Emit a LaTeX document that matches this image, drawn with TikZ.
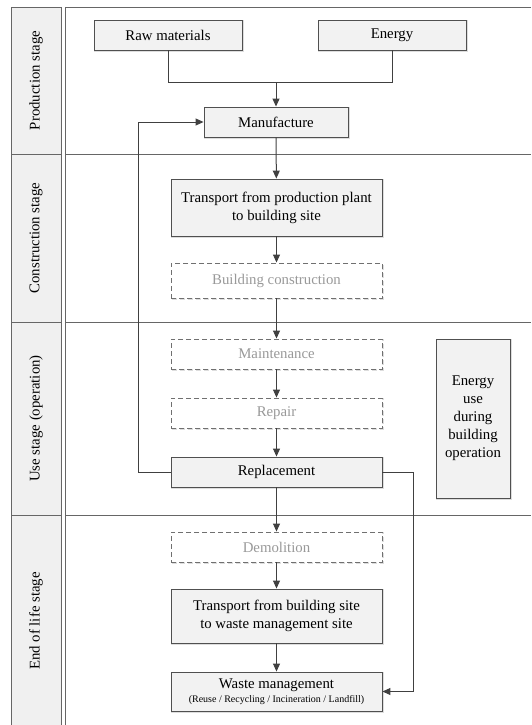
\documentclass[tikz,border=0pt]{standalone}
\usepackage{fontspec}
\setmainfont{Liberation Serif}
\usetikzlibrary{arrows.meta}
\definecolor{boxfill}{HTML}{F2F2F2}
\definecolor{boxline}{HTML}{505050}
\definecolor{arrowc}{HTML}{404040}
\definecolor{dashline}{HTML}{707070}
\definecolor{dashtext}{HTML}{999999}
\definecolor{lanefill}{HTML}{F0F0F0}
\definecolor{laneline}{HTML}{666666}
\definecolor{shadowc}{HTML}{DDDDDD}
\tikzset{
  every node/.style={font=\fontsize{14.8}{18}\selectfont},
  shadowed/.style={preaction={draw=shadowc, line width=1.2pt, transform canvas={xshift=1pt,yshift=-1pt}}},
  solidbox/.style={draw=boxline, fill=boxfill, line width=0.9pt, inner sep=0pt, align=center, shadowed},
  dashbox/.style={draw=dashline, fill=white, dashed, dash pattern=on 5pt off 3pt, line width=0.9pt, inner sep=0pt, align=center, text=dashtext, shadowed},
  flow/.style={draw=arrowc, line width=1pt, -{Triangle[length=8pt,width=7pt]}},
  link/.style={draw=arrowc, line width=1pt},
  lane/.style={draw=laneline, fill=lanefill, line width=0.9pt},
  laneline/.style={draw=laneline, line width=0.9pt},
  lanetext/.style={rotate=90, anchor=center}
}
\begin{document}
\begin{tikzpicture}[x=1pt,y=-1pt]
\useasboundingbox (0,0) rectangle (531,725);
% lane label column
\draw[lane] (11,7) rectangle (61,154);
\draw[lane] (11,154) rectangle (61,322);
\draw[lane] (11,322) rectangle (61,515);
\draw[lane] (11,515) rectangle (61,727);
\node[lanetext] (l1) at (36,80.5) {Production stage};
\node[lanetext] (l2) at (36,238) {Construction stage};
\node[lanetext] (l3) at (36,418.5) {Use stage (operation)};
\node[lanetext] (l4) at (36,621) {End of life stage};
% main panel
\draw[laneline] (531,7) -- (65,7) -- (65,727);
\draw[laneline] (65,154) -- (531,154);
\draw[laneline] (65,322) -- (531,322);
\draw[laneline] (65,515) -- (531,515);
% nodes
\node[solidbox, minimum width=148pt, minimum height=30pt] (raw) at (168,35) {Raw materials};
\node[solidbox, minimum width=148pt, minimum height=30pt] (energy) at (392,35) {Energy};
\node[solidbox, minimum width=144pt, minimum height=30pt] (manu) at (276,122) {Manufacture};
\node[solidbox, minimum width=211pt, minimum height=57pt] (tr1) at (276.5,207.5) {Transport from production plant\\to building site};
\node[dashbox, minimum width=211pt, minimum height=35pt] (bc) at (276.5,280.5) {Building construction};
\node[dashbox, minimum width=211pt, minimum height=30pt] (maint) at (276.5,354) {Maintenance};
\node[dashbox, minimum width=211pt, minimum height=30pt] (repair) at (276.5,413) {Repair};
\node[solidbox, minimum width=211pt, minimum height=30pt] (repl) at (276.5,472) {Replacement};
\node[solidbox, minimum width=74pt, minimum height=159pt] (euse) at (473,418.5) {Energy\\use\\during\\building\\operation};
\node[dashbox, minimum width=211pt, minimum height=30pt] (demol) at (276.5,547) {Demolition};
\node[solidbox, minimum width=211pt, minimum height=54pt] (tr2) at (276.5,616) {Transport from building site\\to waste management site};
\node[solidbox, minimum width=211pt, minimum height=39pt] (waste) at (276.5,691.5) {Waste management\\[-4pt]{\fontsize{10}{12}\selectfont (Reuse / Recycling / Incineration / Landfill)}};
% connectors
\coordinate (j) at (276,82);
\draw[link] (raw.south) |- (j);
\draw[link] (energy.south) |- (j);
\draw[flow] (j) -- (manu.north);
\draw[flow] (manu) -- (tr1);
\draw[flow] (tr1) -- (bc);
\draw[flow] (bc) -- (maint);
\draw[flow] (maint) -- (repair);
\draw[flow] (repair) -- (repl);
\draw[flow] (repl) -- (demol);
\draw[flow] (demol) -- (tr2);
\draw[flow] (tr2) -- (waste);
\coordinate (lb) at (138,472);
\coordinate (rb) at (413,472);
\draw[flow] (repl.west) -- (lb) |- (manu.west);
\draw[flow] (repl.east) -- (rb) |- (waste.east);
\end{tikzpicture}
\end{document}
